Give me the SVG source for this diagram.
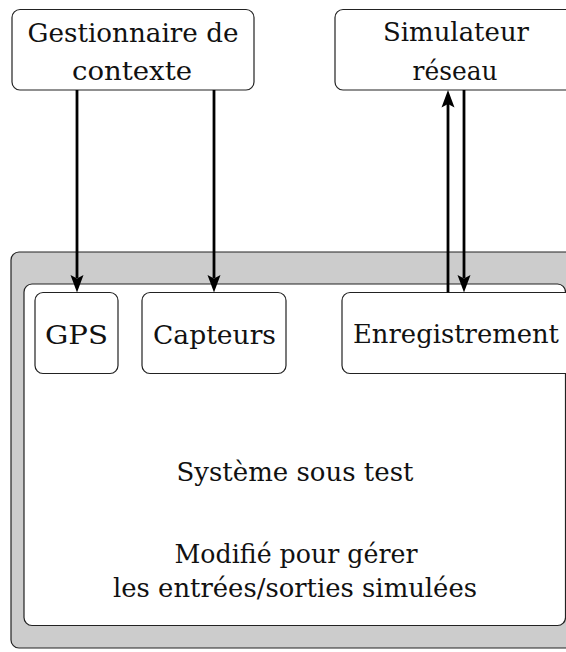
<svg xmlns="http://www.w3.org/2000/svg" width="566" height="652" viewBox="0 0 566 652">
  <style>
    .box { fill: #ffffff; stroke: #222222; stroke-width: 1.2; }
    .outer { fill: #cccccc; stroke: #222222; stroke-width: 1.2; }
    .lbl { font-family: 'DejaVu Serif', 'Liberation Serif', serif; font-size: 26px; fill: #111111; text-anchor: middle; }
    .wire { stroke: #000000; stroke-width: 2.8; fill: none; }
    .head { fill: #000000; stroke: none; }
  </style>

  <g id="systeme">
    <rect class="outer" x="11" y="252" width="600" height="396" rx="8"/>
    <rect class="box" x="24" y="284" width="541.5" height="341.5" rx="8"/>
    <text class="lbl" x="295" y="481" textLength="237" lengthAdjust="spacingAndGlyphs">Système sous test</text>
    <text class="lbl" x="296" y="563" textLength="243" lengthAdjust="spacingAndGlyphs">Modifié pour gérer</text>
    <text class="lbl" x="295" y="597" textLength="364" lengthAdjust="spacingAndGlyphs">les entrées/sorties simulées</text>
  </g>

  <g id="gestionnaire">
    <rect class="box" x="12" y="9.5" width="242" height="80.5" rx="8"/>
    <text class="lbl" x="133" y="42" textLength="211" lengthAdjust="spacingAndGlyphs">Gestionnaire de</text>
    <text class="lbl" x="132" y="80" textLength="120" lengthAdjust="spacingAndGlyphs">contexte</text>
  </g>

  <g id="simulateur">
    <rect class="box" x="335" y="9.5" width="260" height="80.5" rx="8"/>
    <text class="lbl" x="456" y="41" textLength="146" lengthAdjust="spacingAndGlyphs">Simulateur</text>
    <text class="lbl" x="455" y="80" textLength="85" lengthAdjust="spacingAndGlyphs">réseau</text>
  </g>

  <g id="gps">
    <rect class="box" x="35" y="292.5" width="83" height="81" rx="8"/>
    <text class="lbl" x="76.5" y="344" textLength="63" lengthAdjust="spacingAndGlyphs">GPS</text>
  </g>

  <g id="capteurs">
    <rect class="box" x="142" y="292.5" width="144" height="81" rx="8"/>
    <text class="lbl" x="214.5" y="344" textLength="123" lengthAdjust="spacingAndGlyphs">Capteurs</text>
  </g>

  <g id="enregistrement">
    <rect class="box" x="342" y="292.5" width="240" height="81" rx="8"/>
    <text class="lbl" x="456" y="343" textLength="206" lengthAdjust="spacingAndGlyphs">Enregistrement</text>
  </g>

  <g id="connecteurs">
    <line class="wire" x1="77" y1="90" x2="77" y2="278"/>
    <path class="head" d="M77,292.5 L70.5,275 L77,278.5 L83.5,275 z"/>
    <line class="wire" x1="214" y1="90" x2="214" y2="278"/>
    <path class="head" d="M214,292.5 L207.5,275 L214,278.5 L220.5,275 z"/>
    <line class="wire" x1="448" y1="292.5" x2="448" y2="104"/>
    <path class="head" d="M448,90 L441.5,107.5 L448,104 L454.5,107.5 z"/>
    <line class="wire" x1="464" y1="90" x2="464" y2="278"/>
    <path class="head" d="M464,292.5 L457.5,275 L464,278.5 L470.5,275 z"/>
  </g>
</svg>
